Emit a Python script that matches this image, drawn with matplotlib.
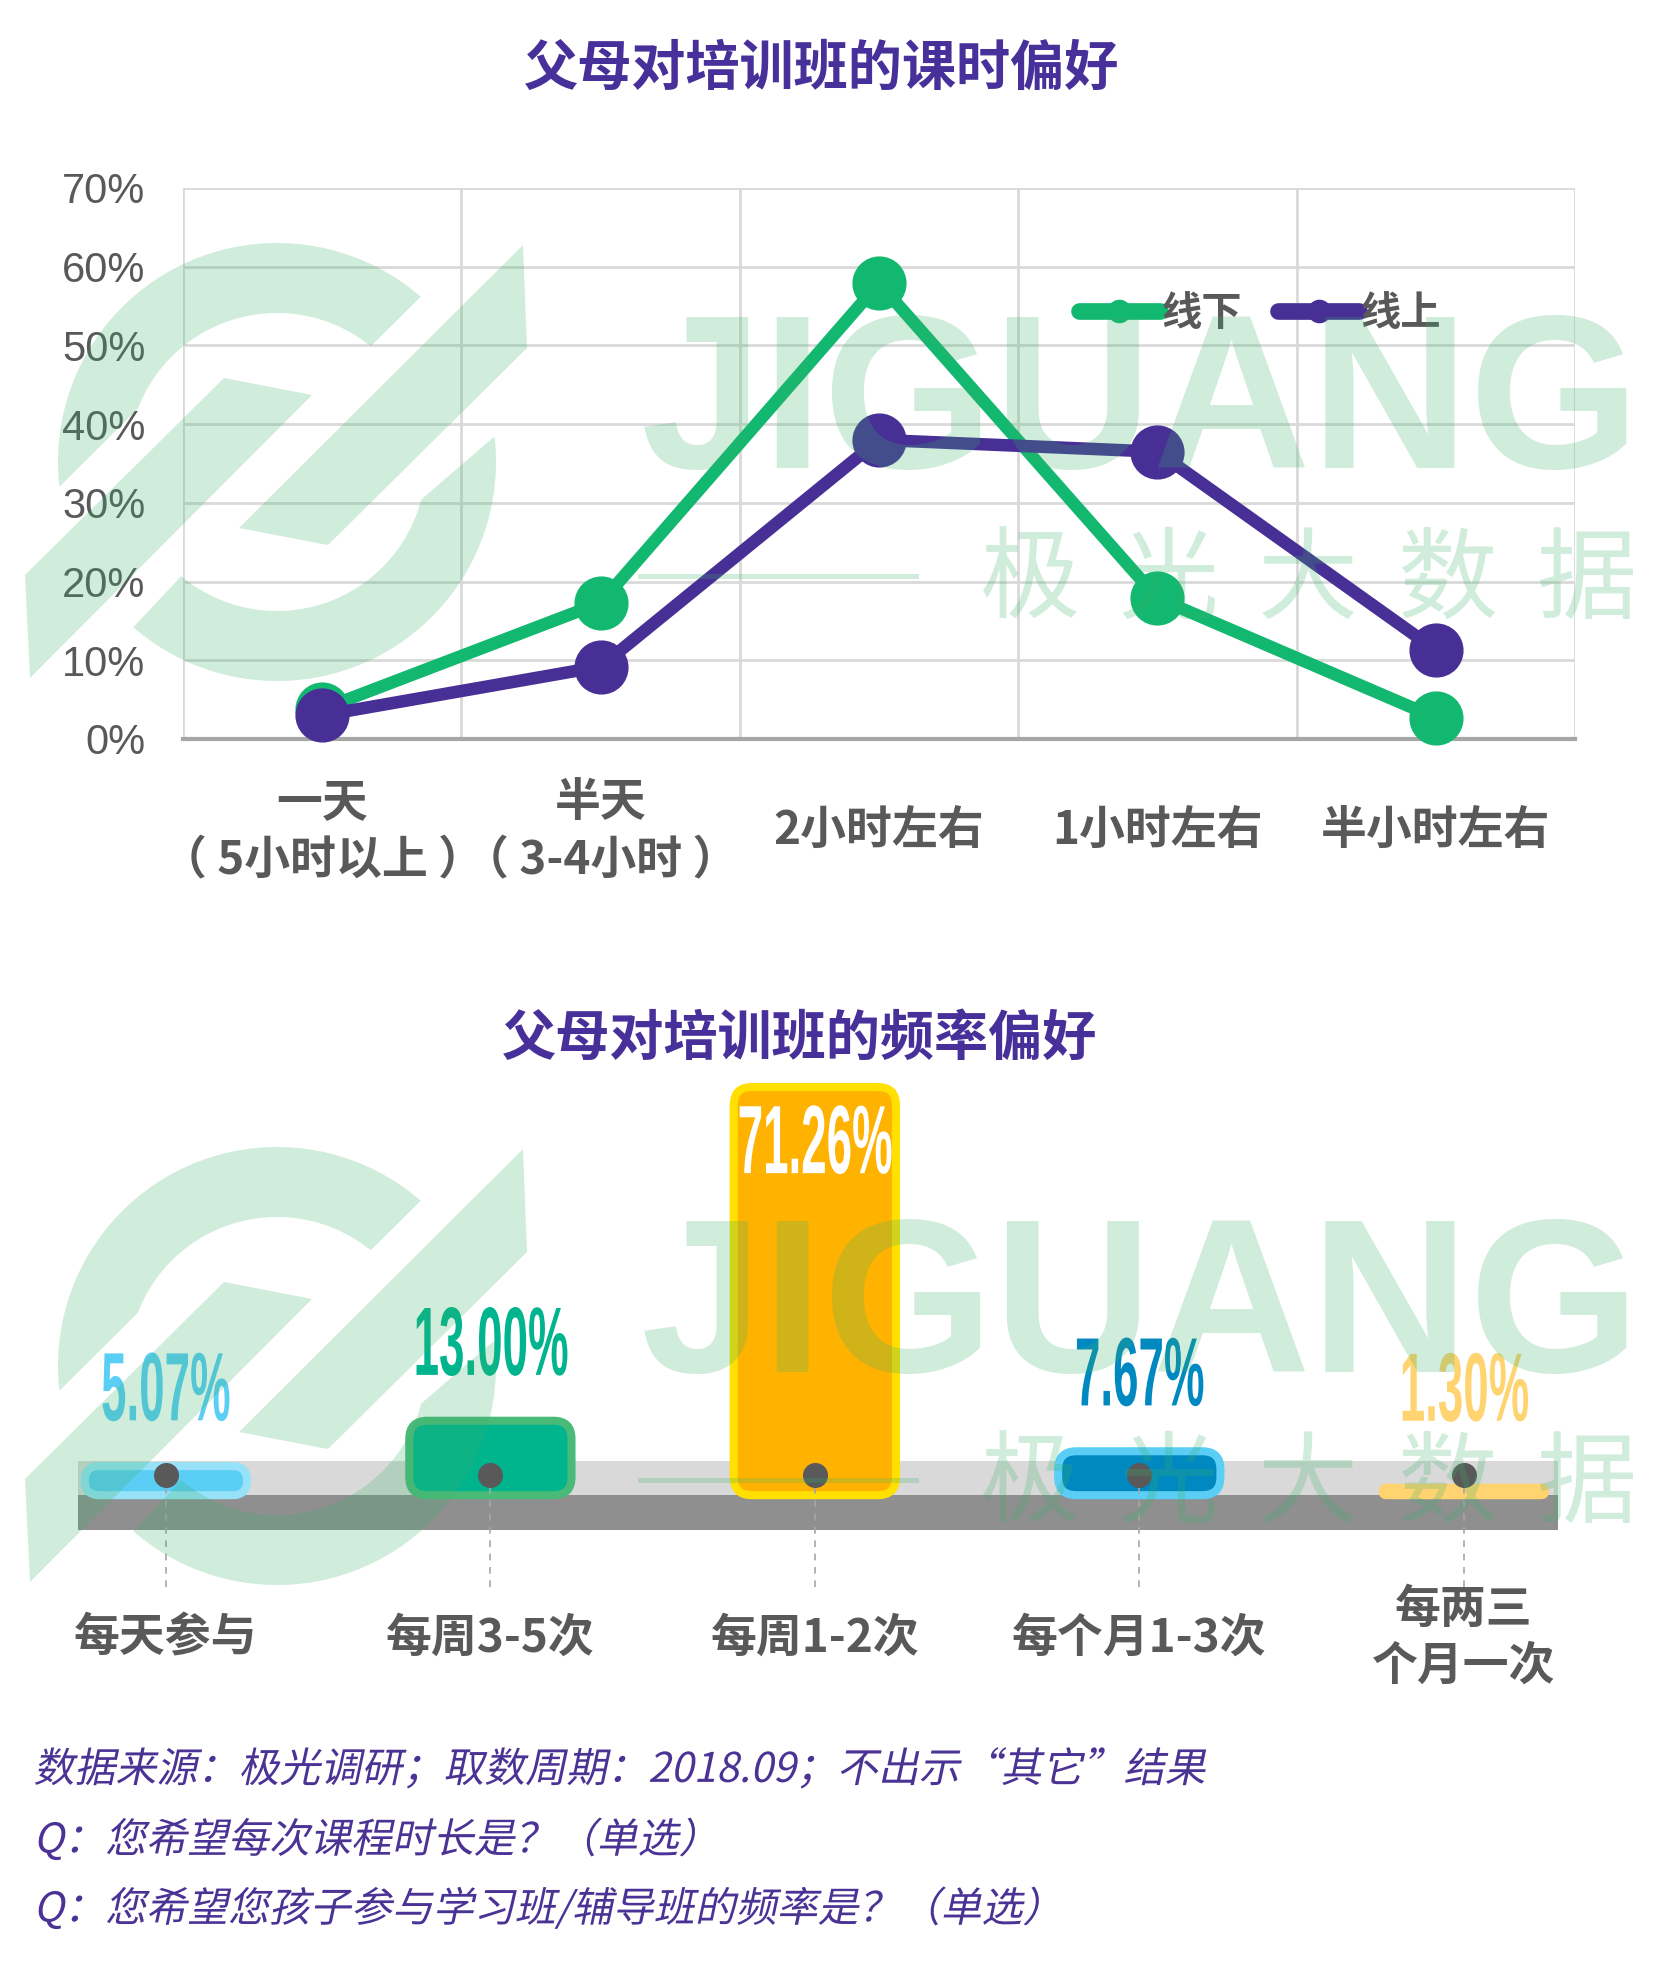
import matplotlib
matplotlib.use('Agg')
import matplotlib.pyplot as plt
import matplotlib.patheffects as pe
import numpy as np
from matplotlib.lines import Line2D
from matplotlib.patches import FancyBboxPatch, Polygon, Rectangle
from matplotlib.transforms import Affine2D

plt.rcParams['font.family'] = ['Noto Sans CJK SC', 'DejaVu Sans']

W, H = 1654, 1968

# ---- data ----
hour_labels = ['一天\n（ 5小时以上 ）', '半天\n（ 3-4小时 ）', '2小时左右', '1小时左右', '半小时左右']
offline = [3.8, 17.3, 57.9, 17.9, 2.7]
online = [3.0, 9.2, 38.0, 36.5, 11.3]

freq_labels = ['每天参与', '每周3-5次', '每周1-2次', '每个月1-3次', '每两三\n个月一次']
freq_values = [5.07, 13.00, 71.26, 7.67, 1.30]
freq_fill = ['#5bcef5', '#00b48e', '#ffb300', '#0088c0', '#ffd470']
freq_edge = ['#97e2f8', '#4aba79', '#ffe000', '#5bcef5', '#ffd470']
freq_text = ['#5bcef5', '#00b48e', 'white', '#0088c0', '#ffd470']

notes = ['数据来源：极光调研；取数周期：2018.09；不出示“其它”结果',
         'Q：您希望每次课程时长是？（单选）',
         'Q：您希望您孩子参与学习班/辅导班的频率是？（单选）']

GREEN, PURPLE = '#12b86f', '#472f96'
TITLE_C, LABEL_C, NOTE_C = '#48309a', '#595959', '#4a3395'
WM_C, WM_A = '#3bb06c', 0.24


class Squeeze(pe.AbstractPathEffect):
    """narrow glyphs around their centre (condensed look)"""
    def __init__(self, sx):
        super().__init__()
        self.sx = sx

    def draw_path(self, renderer, gc, tpath, affine, rgbFace=None):
        ext = tpath.get_extents(affine)
        cx = (ext.x0 + ext.x1) / 2
        tr = affine + Affine2D().translate(-cx, 0).scale(self.sx, 1).translate(cx, 0)
        renderer.draw_path(gc, tpath, tr, rgbFace)


class Slant(pe.AbstractPathEffect):
    """fake italics"""
    def __init__(self, deg):
        super().__init__()
        self.deg = deg

    def draw_path(self, renderer, gc, tpath, affine, rgbFace=None):
        y0 = tpath.get_extents(affine).y0
        tr = affine + Affine2D().translate(0, -y0).skew_deg(self.deg, 0).translate(0, y0)
        renderer.draw_path(gc, tpath, tr, rgbFace)


fig = plt.figure(figsize=(W / 100, H / 100), dpi=100)
# pixel coords, origin top-left
PIX = Affine2D().scale(1 / W, -1 / H).translate(0, 1) + fig.transFigure

fig.text(822 / W, 1 - 69 / H, '父母对培训班的课时偏好', ha='center', va='center',
         fontsize=39, fontweight='bold', color=TITLE_C)
fig.text(800 / W, 1 - 1039 / H, '父母对培训班的频率偏好', ha='center', va='center',
         fontsize=39, fontweight='bold', color=TITLE_C)

# ---- top: line chart ----
ax = fig.add_axes([183 / W, 1 - 739 / H, 1392 / W, 551 / H])
x = np.arange(len(hour_labels))
ax.plot(x, offline, color=GREEN, lw=9, marker='o', ms=38, clip_on=False, zorder=3)
ax.plot(x, online, color=PURPLE, lw=9, marker='o', ms=38, clip_on=False, zorder=4)
ax.set_xlim(-0.5, len(x) - 0.5)
ax.set_ylim(0, 70)
ax.set_yticks(range(0, 71, 10))
ax.yaxis.set_major_formatter(lambda v, p: f'{v:.0f}%')
ax.set_xticks(np.arange(-0.5, len(x), 1))
ax.tick_params(length=0, labelbottom=False)
ax.tick_params(axis='y', labelsize=30, labelcolor=LABEL_C, pad=27)
for lab in ax.get_yticklabels():
    lab.set_fontfamily('Liberation Sans')
ax.grid(color='#d9d9d9', lw=2)
ax.set_axisbelow(True)
for s in ['top', 'left', 'right']:
    ax.spines[s].set_visible(False)
ax.spines['bottom'].set_color('#a6a6a6')
ax.spines['bottom'].set_linewidth(3)

for i, lab in enumerate(hour_labels):
    ax.text(i, -0.168, lab, transform=ax.get_xaxis_transform(), ha='center', va='center',
            fontsize=33, fontweight='bold', color=LABEL_C, linespacing=1.3)

handles = [Line2D([], [], color=c, lw=12, marker='o', ms=16, solid_capstyle='round')
           for c in (GREEN, PURPLE)]
ax.legend(handles, ['线下', '线上'], ncol=2, loc='center left',
          bbox_to_anchor=((1079 - 183) / 1392, (739 - 314) / 551), frameon=False,
          handlelength=2.0, handletextpad=0.05, columnspacing=0.9, borderpad=0,
          borderaxespad=0, prop={'weight': 'bold', 'size': 29}, labelcolor=LABEL_C)

# ---- bottom: rounded bars ----
ax2 = fig.add_axes([3.7 / W, 1 - 1667 / H, 1622.3 / W, 630 / H])
ax2.set_xlim(-0.5, 4.5)
ax2.set_ylim(-30, 80)
ax2.axis('off')
n = len(freq_values)
ax2.add_patch(Rectangle((-0.27, 0), n - 1 + 0.56, 6, color='#d9d9d9', lw=0, zorder=1))
ax2.add_patch(Rectangle((-0.27, -6), n - 1 + 0.56, 6, color='#8f8f8f', lw=0, zorder=1))

px_x = 1622.3 / 5
px_y = 630 / 110
bw = 0.5
for i, v in enumerate(freq_values):
    r = min(18, v * px_y / 2)
    ax2.add_patch(FancyBboxPatch((i - bw / 2, 0), bw, v,
                                 boxstyle=f'round,pad=0,rounding_size={r / px_x}',
                                 mutation_aspect=px_x / px_y, fc=freq_fill[i],
                                 ec=freq_edge[i], lw=5.8, zorder=3))
    if v > 50:
        anchor, off = v, -44
    else:
        anchor, off = max(v, 5), 51
    ax2.annotate(f'{v:.2f}%', (i, anchor), xytext=(0, off),
                 textcoords='offset points', ha='center', va='center', fontsize=70,
                 fontweight='bold', family='Liberation Sans', color=freq_text[i],
                 path_effects=[Squeeze(0.47)], zorder=6)
    ax2.text(i, -25.0, freq_labels[i], ha='center', va='center', fontsize=33,
             fontweight='bold', color=LABEL_C, linespacing=1.3)

ax2.vlines(range(n), -16, 3.5, colors='#a6a6a6', linestyles=(0, (4, 4)), lw=1.2, zorder=4)
ax2.plot(range(n), [3.5] * n, 'o', color='#595959', ms=17, zorder=5)

# ---- footnotes ----
for y, s in zip([1770, 1840, 1909], notes):
    fig.text(32 / W, 1 - y / H, s, ha='left', va='center', fontsize=29.5, color=NOTE_C,
             path_effects=[Slant(12)])


# ---- watermark ----
def arc_piece(cx, cy, o1, o2, i1, i2, ro=219, ri=149):
    ao = np.radians(np.linspace(o1, o2, 80))
    ai = np.radians(np.linspace(i2, i1, 80))
    xs = np.r_[cx + ro * np.cos(ao), cx + ri * np.cos(ai)]
    ys = np.r_[cy - ro * np.sin(ao), cy - ri * np.sin(ai)]
    return np.column_stack([xs, ys])


for dy in (0, 904):
    pieces = [arc_piece(277, 462 + dy, 49, 186.5, 51, 159),
              arc_piece(277, 462 + dy, 229, 366.7, 230, 345.4),
              np.array([(25, 575), (224, 378), (312, 395), (30, 678)]) + [0, dy],
              np.array([(239, 528), (523, 245), (527, 348), (328, 545)]) + [0, dy]]
    for p in pieces:
        fig.add_artist(Polygon(p, closed=True, transform=PIX, fc=WM_C, alpha=WM_A,
                               lw=0, zorder=10))
    fig.text(1141, 468 + dy, 'JIGUANG', transform=PIX, ha='center', va='baseline',
             fontsize=158, fontweight='bold', family='Liberation Sans', color=WM_C,
             alpha=WM_A, zorder=10)
    for k, ch in enumerate('极光大数据'):
        fig.text(1030 + 139 * k, 582 + dy, ch, transform=PIX, ha='center', va='center',
                 fontsize=72, color=WM_C, alpha=WM_A, zorder=10)
    fig.add_artist(Line2D([640, 916], [576 + dy] * 2, transform=PIX, lw=3.6, color=WM_C,
                          alpha=WM_A, zorder=10))

fig.savefig('out.png', dpi=100)
